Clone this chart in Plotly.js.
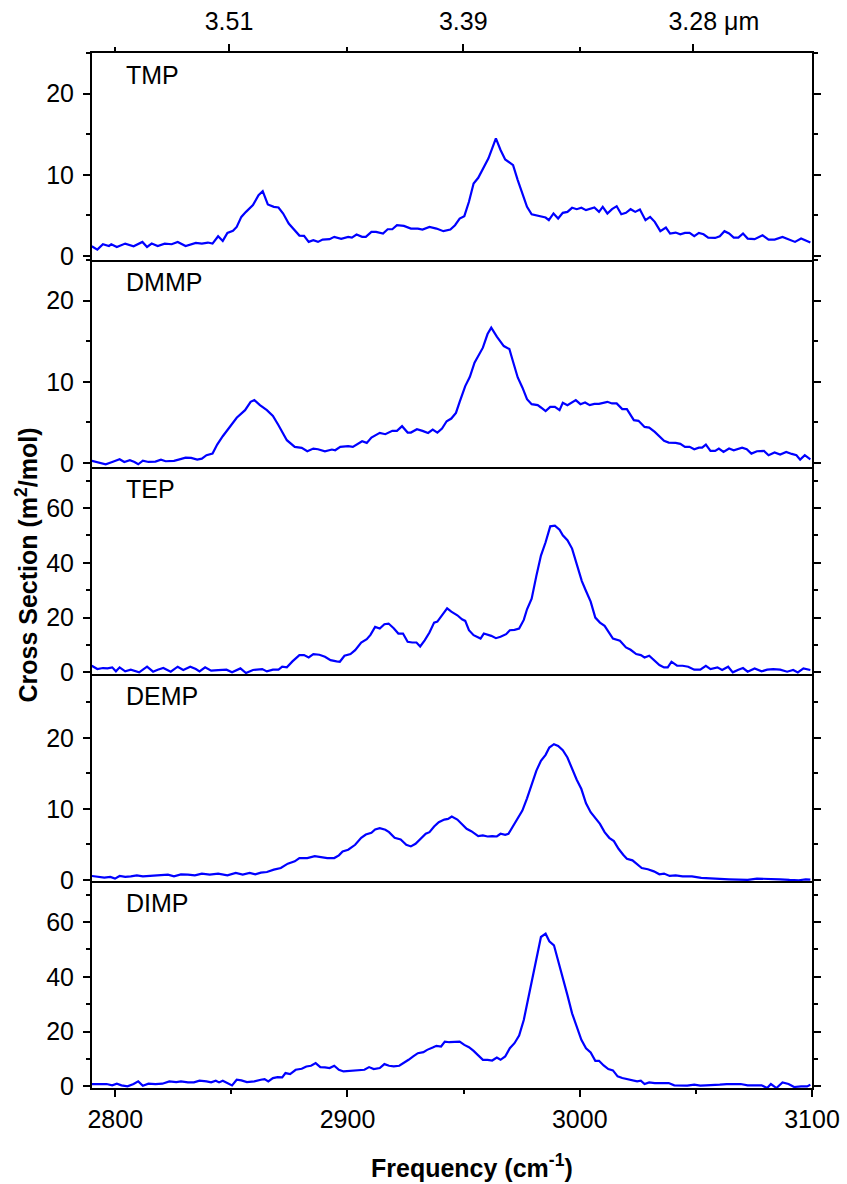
<!DOCTYPE html>
<html>
<head>
<meta charset="utf-8">
<script src="https://cdn.plot.ly/plotly-3.0.1.min.js"></script>
<style>html,body{margin:0;padding:0;background:#fff;}#chart{width:847px;height:1184px;}</style>
</head>
<body>
<div id="chart"></div>
<script>
// ---- Data (wavenumber in cm^-1, cross section in m^2/mol) ----
const panelNames = ['TMP', 'DMMP', 'TEP', 'DEMP', 'DIMP'];

const tmpX = [2789.9,2792.3,2794.7,2797.3,2798.3,2800.7,2804.3,2807.9,2811.7,2813.7,2815.7,2818.3,2821.3,2824.3,2826.9,2830.3,2834.7,2837.3,2839.9,2841.9,2844.3,2846.3,2848.3,2850.7,2852.3,2854.3,2856.3,2859.3,2861.7,2863.5,2865.7,2868.3,2870.3,2872.3,2874.7,2876.7,2879.3,2881.3,2883.3,2885.3,2887.3,2889.3,2892.3,2894.3,2897.3,2900.3,2901.9,2903.9,2906.3,2907.9,2910.3,2912.3,2915.3,2917.3,2919.3,2921.3,2924.3,2927.3,2930.3,2932.3,2935.3,2938.3,2941.3,2944.3,2946.3,2948.3,2950.3,2952.3,2954.3,2956.3,2958.3,2960.7,2963.9,2965.9,2967.9,2971.3,2973.3,2975.3,2977.3,2979.3,2981.3,2983.3,2985.3,2986.7,2988.7,2990.7,2992.7,2994.7,2996.7,2998.7,3000.7,3002.7,3004.7,3006.3,3008.3,3009.9,3011.9,3013.9,3015.9,3017.9,3019.9,3021.9,3023.9,3025.9,3028.3,3030.3,3032.3,3034.7,3037.1,3038.9,3041.3,3043.3,3045.3,3047.3,3049.3,3051.3,3053.3,3055.3,3058.3,3060.3,3062.3,3064.3,3066.3,3068.3,3070.3,3072.3,3075.3,3078.7,3081.3,3083.9,3087.3,3090.3,3092.7,3095.3,3097.9,3099.3];
const tmpY = [1.19,0.78,1.44,1.23,1.44,1.11,1.52,1.19,1.73,1.11,1.52,1.23,1.52,1.44,1.73,1.23,1.6,1.52,1.65,1.52,2.43,1.85,2.84,3.09,3.58,4.81,5.43,6.26,7.49,7.98,6.34,6.05,5.97,5.23,3.99,3.37,2.51,2.47,1.73,1.93,1.73,2.02,2.06,2.35,2.1,2.35,2.26,2.63,2.35,2.35,2.96,2.96,2.76,3.29,3.29,3.79,3.7,3.37,3.37,3.25,3.58,3.37,3.05,3.25,3.79,4.61,4.9,6.67,8.93,9.63,10.78,12.02,14.49,13.05,11.89,11.19,9.34,7.7,6.05,5.14,5.02,4.81,4.73,4.4,5.23,4.61,5.31,5.43,5.93,5.76,5.93,5.64,5.84,5.97,5.43,6.05,5.23,5.76,6.13,5.14,5.31,5.76,5.43,5.72,4.4,4.81,4.2,3.05,3.5,2.76,2.88,2.67,2.84,2.84,2.43,2.84,2.67,2.26,2.22,2.43,3.05,2.76,2.26,2.26,2.76,2.14,2.06,2.55,2.02,2.02,2.35,2.06,1.73,2.14,1.85,1.65];

const dmmpX = [2789.9,2792.3,2795.9,2798.7,2801.9,2803.9,2806.3,2808.3,2809.9,2811.9,2814.3,2817.3,2819.7,2821.7,2825.3,2827.3,2830.3,2832.7,2835.3,2837.3,2839.3,2841.9,2843.9,2846.3,2849.7,2852.3,2855.9,2858.3,2859.9,2862.3,2865.3,2867.9,2870.3,2872.3,2873.9,2877.3,2880.3,2882.7,2885.3,2887.3,2890.3,2893.3,2894.7,2896.9,2900.3,2902.3,2906.3,2908.3,2910.3,2913.9,2916.3,2919.3,2921.3,2923.5,2925.9,2927.3,2929.9,2932.3,2934.7,2936.7,2938.7,2940.7,2942.7,2944.7,2946.7,2948.3,2950.7,2952.7,2954.7,2958.3,2960.3,2961.9,2964.3,2967.3,2969.7,2971.3,2973.3,2975.3,2977.3,2979.3,2981.9,2983.3,2985.3,2987.3,2989.3,2991.3,2992.7,2994.7,2998.3,3000.3,3002.3,3004.3,3006.3,3008.3,3011.9,3013.9,3015.9,3018.3,3020.3,3023.3,3025.3,3027.9,3029.9,3032.3,3034.3,3036.3,3038.3,3041.3,3043.3,3045.3,3047.3,3049.3,3051.3,3052.7,3054.3,3056.3,3058.3,3059.9,3061.9,3064.3,3066.3,3069.9,3071.9,3073.9,3076.3,3079.3,3081.3,3083.9,3086.3,3088.9,3091.3,3093.3,3094.9,3096.9,3099.3];
const dmmpY = [0.25,0.12,-0.16,0.12,0.45,0.12,0.33,0.12,-0.16,0.29,0.12,0.16,0.41,0.21,0.25,0.41,0.66,0.62,0.41,0.53,0.95,1.15,2.26,3.29,4.53,5.56,6.5,7.53,7.74,7.12,6.5,5.8,4.65,3.62,2.8,1.98,1.85,1.44,1.77,1.69,1.44,1.65,1.56,1.98,2.06,1.98,2.67,2.47,3.13,3.7,3.54,3.95,3.95,4.53,3.74,3.74,4.16,3.95,3.7,4.12,3.74,4.24,5.14,5.47,6.17,7.53,9.47,10.62,12.35,14.2,15.88,16.67,15.56,14.4,14.03,12.47,10.53,9.3,7.86,7.24,7.12,6.83,6.38,6.91,6.91,6.5,7.41,7.12,7.74,7.24,7.45,7.12,7.28,7.28,7.53,7.33,7.33,6.63,6.63,5.27,5.19,4.44,4.36,3.83,3.29,2.72,2.51,2.47,2.35,1.98,1.98,1.69,1.89,1.89,2.26,1.48,1.48,1.77,1.36,1.77,1.56,1.89,1.69,1.15,1.44,1.48,0.95,1.28,1.03,1.36,1.11,0.95,0.41,0.95,0.45];

const tepX = [2789.9,2792.3,2794.7,2796.7,2798.7,2800.3,2801.9,2804.3,2806.7,2808.3,2810.3,2813.7,2816.3,2818.3,2820.7,2823.9,2826.9,2829.3,2832.3,2834.7,2836.3,2838.7,2841.3,2844.3,2847.9,2850.3,2853.9,2856.3,2859.3,2863.3,2865.3,2867.9,2870.3,2871.9,2873.9,2876.3,2879.3,2881.3,2883.3,2885.3,2887.9,2890.3,2892.7,2895.3,2896.7,2898.7,2901.3,2903.3,2905.9,2908.3,2909.9,2911.9,2913.9,2915.9,2917.7,2919.9,2921.9,2923.9,2925.9,2927.9,2929.7,2931.3,2933.3,2935.3,2937.3,2938.7,2940.7,2942.9,2944.7,2947.3,2949.3,2950.7,2952.3,2954.3,2957.3,2958.7,2961.9,2963.9,2965.9,2968.3,2969.9,2971.9,2973.9,2975.9,2977.3,2979.3,2981.3,2983.3,2985.3,2987.3,2989.3,2991.3,2992.7,2994.7,2996.7,2998.7,3000.9,3002.7,3004.7,3006.7,3008.7,3010.7,3012.7,3014.3,3017.3,3019.9,3021.9,3024.3,3026.3,3027.9,3029.9,3032.3,3034.3,3036.3,3037.9,3039.5,3041.9,3044.3,3046.7,3049.3,3051.9,3054.3,3056.3,3059.3,3061.3,3063.9,3065.9,3068.3,3070.3,3072.3,3075.3,3078.3,3080.7,3083.3,3086.3,3089.3,3091.9,3093.9,3096.3,3099.3];
const tepY = [2.42,1.21,1.58,1.45,1.82,0.36,1.82,0.36,0.97,0.61,0,2.06,0.24,0.97,1.58,0.24,2.06,0.85,2.06,1.21,0.36,1.82,0.61,0.85,0.97,0,1.45,-0.24,0.85,1.21,0.36,0.97,0.97,2.06,1.82,4.0,6.3,6.3,5.45,6.67,6.42,5.7,4.48,4.0,3.88,6.06,6.67,8.12,10.91,12.12,13.7,16.6,16.0,17.58,17.82,16.12,14.18,14.18,11.15,10.91,10.91,9.45,11.76,14.55,18.18,18.55,20.97,23.39,22.18,20.85,19.39,18.79,15.39,13.58,12.36,14.18,13.33,12.48,12.97,13.94,15.39,15.52,16.0,19.15,23.03,26.91,35.15,42.67,47.52,53.33,53.58,52.12,50.06,48.24,45.21,39.39,33.33,29.7,25.82,20.0,18.18,16.97,14.3,12.36,11.52,9.09,8.24,6.67,6.3,5.45,6.06,4.24,2.67,1.82,1.82,3.88,2.42,2.42,2.06,0.97,0.97,2.42,1.21,1.82,0.85,2.06,0,0.97,1.58,0.24,1.45,0.36,0.97,1.21,0.97,0.24,0.85,0,1.45,0.85];

const dempX = [2789.9,2792.3,2795.3,2797.9,2799.9,2801.9,2804.3,2806.7,2809.3,2811.9,2814.3,2817.3,2820.3,2822.7,2825.3,2828.3,2831.3,2834.3,2837.3,2840.7,2844.3,2848.3,2851.9,2854.9,2857.9,2860.3,2862.7,2865.3,2868.3,2871.3,2874.3,2877.3,2879.3,2882.7,2885.9,2888.3,2891.3,2894.3,2896.3,2897.9,2900.3,2903.3,2905.9,2907.9,2910.3,2911.9,2913.9,2916.3,2917.9,2920.3,2922.9,2925.3,2927.3,2929.3,2931.3,2933.7,2935.3,2937.3,2939.3,2941.7,2943.3,2944.9,2947.3,2949.3,2951.3,2953.3,2956.3,2958.3,2960.3,2962.3,2964.3,2965.9,2967.9,2969.3,2971.3,2973.3,2975.3,2977.3,2979.3,2981.3,2983.3,2985.3,2986.9,2988.9,2990.7,2992.7,2994.7,2996.7,2998.7,3000.7,3002.7,3004.7,3006.7,3008.7,3010.7,3012.7,3014.7,3016.7,3018.7,3020.3,3022.7,3024.3,3026.7,3029.3,3031.9,3034.3,3036.3,3038.7,3041.3,3044.3,3048.3,3052.3,3056.3,3060.3,3064.3,3068.3,3072.3,3076.3,3079.3,3082.3,3086.3,3090.3,3094.3,3097.3,3099.3];
const dempY = [0.56,0.42,0.33,0.42,0.19,0.56,0.42,0.51,0.65,0.51,0.56,0.65,0.65,0.75,0.51,0.79,0.75,0.65,0.89,0.75,0.89,0.65,0.98,0.75,0.98,0.79,1.03,1.12,1.45,1.68,2.29,2.62,3.08,3.08,3.36,3.22,3.08,3.08,3.46,4.02,4.25,4.95,5.93,6.4,6.64,7.1,7.29,7.06,6.73,5.93,5.7,4.95,4.72,5.09,5.79,6.5,6.73,7.52,8.13,8.5,8.6,8.93,8.5,7.9,7.2,6.87,6.17,6.26,6.12,6.17,6.12,6.5,6.36,6.5,7.57,8.6,9.77,11.5,13.5,15.37,16.78,17.62,18.64,19.11,18.88,18.27,17.24,15.61,14.11,12.8,10.79,9.53,8.69,7.9,6.73,5.93,5.47,4.39,3.55,2.99,2.76,2.29,1.68,1.5,1.21,0.79,0.89,0.56,0.65,0.51,0.51,0.28,0.19,0.19,0.09,0.05,0,0.19,0.19,0.09,0.09,0,-0.05,0.09,0.05];

const dimpX = [2789.9,2793.3,2796.3,2798.7,2800.7,2802.7,2805.3,2807.9,2809.9,2811.9,2814.3,2817.3,2820.3,2823.3,2826.3,2828.3,2831.3,2833.9,2836.3,2839.3,2841.3,2843.3,2844.7,2846.3,2848.3,2850.3,2852.3,2854.3,2856.7,2859.9,2862.7,2864.3,2865.9,2867.9,2869.9,2871.9,2873.3,2875.3,2877.7,2880.3,2882.3,2884.3,2886.3,2888.3,2890.3,2892.3,2894.3,2896.3,2898.3,2901.3,2904.3,2907.3,2909.3,2911.3,2913.9,2915.9,2917.9,2919.9,2922.3,2924.3,2926.3,2928.3,2930.3,2932.7,2934.3,2936.7,2938.3,2940.3,2941.9,2943.9,2946.3,2948.3,2950.3,2952.3,2954.3,2956.3,2958.3,2960.3,2962.3,2964.3,2965.9,2967.9,2969.9,2971.9,2973.9,2975.9,2977.9,2979.9,2981.9,2983.3,2985.3,2986.9,2988.9,2990.7,2992.7,2994.7,2996.7,2998.7,3000.7,3002.7,3004.7,3006.7,3008.3,3010.3,3012.3,3014.3,3016.3,3018.3,3020.3,3022.7,3024.7,3026.3,3027.9,3029.9,3032.3,3035.3,3038.3,3040.7,3043.3,3046.3,3049.3,3051.9,3054.3,3057.3,3060.3,3063.3,3066.3,3069.3,3072.3,3075.3,3078.3,3080.7,3082.3,3084.7,3087.3,3089.9,3092.3,3095.3,3097.9,3099.3];
const dimpY = [0.85,0.85,0.85,0.36,0.97,0.36,0,0.85,1.82,0.24,0.97,0.85,0.97,1.82,1.58,1.82,1.45,1.45,2.06,1.82,1.45,2.06,1.45,2.06,1.21,0.36,2.42,2.18,1.58,1.82,2.42,2.67,1.82,3.03,3.39,3.27,4.85,4.48,6.06,6.42,7.27,7.52,8.48,7.03,6.91,6.67,7.52,6.06,5.45,5.7,5.7,6.06,7.03,6.3,6.67,8.12,7.52,7.27,7.52,8.48,9.7,10.91,12.12,12.48,13.33,14.18,14.79,14.55,16.36,16.12,16.36,16.36,15.15,14.3,12.97,11.15,9.7,9.7,9.45,10.55,9.7,10.91,13.94,15.76,18.55,24.24,32.73,41.21,49.09,54.55,55.76,52.97,51.52,46.06,40.0,33.33,26.67,21.82,16.97,13.94,12.36,9.33,9.33,7.64,6.3,5.82,3.64,3.03,2.67,2.06,1.82,2.06,0.85,1.45,1.21,1.21,1.21,0.36,0.36,0.24,0.61,0.24,0.36,0.36,0.61,0.85,0.97,0.85,0.36,0.36,0.36,-0.61,0.85,-0.61,1.45,0.85,-0.24,0,0,0.61];

// axis settings / tick labels
const xRange = [2790, 3100];
const wavelengthTicks = [3.51, 3.39, 3.28];           // micrometres
const wavelengthText = ['3.51', '3.39', '\u00a0\u00a0\u00a0\u00a0\u00a0\u00a03.28\u00a0\u03bcm'];
const wavelengthMinor = [2800, 2900, 3000];
const yRanges = [[-0.5, 25], [-0.5, 25], [-0.6, 75], [-0.15, 29], [-0.6, 75]];
const yMajor = [10, 10, 20, 10, 20];
const yMinor = [5, 5, 10, 5, 10];

const seriesX = [tmpX, dmmpX, tepX, dempX, dimpX];
const seriesY = [tmpY, dmmpY, tepY, dempY, dimpY];

const FONT = 'Liberation Sans, Arial, Helvetica, sans-serif';
const TICKSIZE = 25;
const N = 5;
const traces = [];
const layout = {
  width: 847, height: 1184,
  margin: {l: 92, r: 35, t: 53, b: 96},
  paper_bgcolor: '#fff', plot_bgcolor: '#fff',
  showlegend: false,
  font: {family: FONT, size: TICKSIZE, color: '#000'},
  annotations: [],
};

for (let i = 0; i < N; i++) {
  const sfx = i === 0 ? '' : String(i + 1);
  traces.push({
    x: seriesX[i], y: seriesY[i],
    xaxis: 'x' + sfx, yaxis: 'y' + sfx,
    type: 'scatter', mode: 'lines',
    line: {color: '#0000ff', width: 2.2},
    hoverinfo: 'skip'
  });
  const dom = [1 - (i + 1) / N, 1 - i / N];
  const isBottom = i === N - 1;
  const xa = {
    anchor: 'y' + sfx, range: xRange, domain: [0, 1],
    showline: true, linecolor: '#000', linewidth: 2,
    showgrid: false, zeroline: false,
    ticks: isBottom ? 'outside' : '',
    showticklabels: isBottom,
    tick0: 2800, dtick: 100, ticklen: 7, tickwidth: 2, tickcolor: '#000',
    tickfont: {family: FONT, size: TICKSIZE},
    fixedrange: true
  };
  if (isBottom) {
    xa.ticklabelstandoff = 1;
    xa.minor = {dtick: 50, tick0: 2800, ticks: 'outside', ticklen: 4, tickwidth: 2, tickcolor: '#000'};
  }
  layout['xaxis' + sfx] = xa;
  layout['yaxis' + sfx] = {
    anchor: 'x' + sfx, domain: dom, range: yRanges[i],
    showline: true, linecolor: '#000', linewidth: 2, mirror: 'ticks',
    showgrid: false, zeroline: false,
    ticks: 'outside', tick0: 0, dtick: yMajor[i], ticklen: 7, tickwidth: 2, tickcolor: '#000',
    ticklabelstandoff: 4,
    tickfont: {family: FONT, size: TICKSIZE},
    minor: {dtick: yMinor[i], tick0: 0, ticks: 'outside', ticklen: 4, tickwidth: 2, tickcolor: '#000'},
    fixedrange: true
  };
  layout.annotations.push({
    text: panelNames[i], xref: 'paper', yref: 'y' + sfx + ' domain',
    x: 0.045, y: 0.893, xanchor: 'left', yanchor: 'middle',
    showarrow: false, font: {family: FONT, size: 25, color: '#000'}
  });
}

// top wavelength axis overlaying the first panel
layout.xaxis6 = {
  overlaying: 'x', anchor: 'y', side: 'top', range: xRange,
  tickmode: 'array',
  tickvals: wavelengthTicks.map(w => 1e4 / w),
  ticktext: wavelengthText,
  showline: true, linecolor: '#000', linewidth: 2,
  showgrid: false, zeroline: false,
  ticks: 'outside', ticklen: 7, tickwidth: 2, tickcolor: '#000',
  ticklabelstandoff: 4,
  tickfont: {family: FONT, size: TICKSIZE},
  minor: {tickmode: 'array', tickvals: wavelengthMinor, ticks: 'outside', ticklen: 4, tickwidth: 2, tickcolor: '#000'},
  fixedrange: true
};
// an empty trace so the top axis subplot is created
traces.push({x: [], y: [], xaxis: 'x6', yaxis: 'y', type: 'scatter', mode: 'lines', hoverinfo: 'skip', showlegend: false});

// axis titles
layout.annotations.push({
  text: '<b>Cross Section (m<sup>2</sup>/mol)</b>', xref: 'paper', yref: 'paper',
  x: -0.09, y: 0.505, xanchor: 'center', yanchor: 'middle', textangle: -90,
  showarrow: false, font: {family: FONT, size: 25, color: '#000'}
});
layout.annotations.push({
  text: '<b>Frequency (cm<sup>-1</sup>)</b>', xref: 'paper', yref: 'paper',
  x: 0.528, y: -0.075, xanchor: 'center', yanchor: 'middle',
  showarrow: false, font: {family: FONT, size: 25, color: '#000'}
});

Plotly.newPlot('chart', traces, layout, {staticPlot: true, displayModeBar: false});
</script>
</body>
</html>
